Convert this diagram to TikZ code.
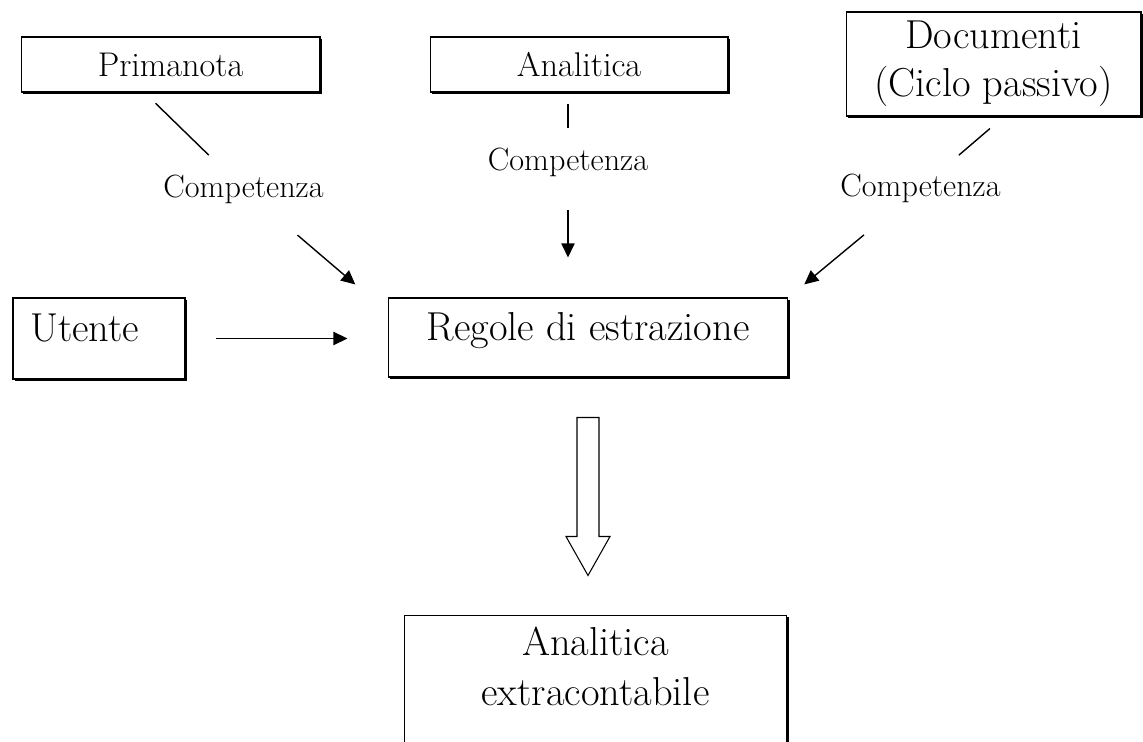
\documentclass[tikz,border=0pt]{standalone}
\usepackage{tikz}
\usetikzlibrary{arrows.meta,positioning,calc,shadows}

\begin{document}
\begin{tikzpicture}[
  x=0.02cm, y=-0.02cm,
  box/.style={draw, line width=0.6pt, fill=white, inner sep=0pt, align=center,
    drop shadow={shadow xshift=0.035cm, shadow yshift=-0.035cm, fill=black, opacity=1}},
  src/.style={box, font=\fontsize{19.5}{23}\selectfont, minimum height=1.1cm},
  big/.style={box, font=\fontsize{23}{28.5}\selectfont, text height=16pt, text depth=12.8pt},
  lbl/.style={font=\fontsize{18.3}{22}\selectfont, inner sep=0pt},
  link/.style={line width=0.8pt},
  arr/.style={link, -{Triangle[length=8pt, width=7.5pt]}},
  hollow/.style={draw, line width=0.6pt, fill=white},
]
\useasboundingbox (0,0) rectangle (1143,742);

\node[src, minimum width=5.98cm] (prim) at (170.5,64.5) {Primanota};
\node[src, minimum width=5.96cm] (anal) at (579,64.5) {Analitica};
\node[src, minimum width=5.9cm, minimum height=2.08cm,
  font=\fontsize{23}{27.3}\selectfont] (docu) at (993.5,64)
  {Documenti\\(Ciclo passivo)};

\node[big, minimum width=3.44cm, minimum height=1.62cm, text width=2.76cm,
  align=left, inner xsep=0.34cm] (ute) at (99,338.5) {Utente};
\node[big, minimum width=8cm, minimum height=1.58cm] (regole) at (588,337.5)
  {Regole di estrazione};
\node[box, font=\fontsize{23}{28.5}\selectfont, minimum width=7.66cm,
  anchor=north, inner ysep=0.22cm, text depth=3cm] (extr) at (595.5,615)
  {Analitica\\extracontabile};

\node[lbl] (c1) at (243.5,189) {Competenza};
\node[lbl] (c2) at (568,162) {Competenza};
\node[lbl] (c3) at (920.5,188) {Competenza};

\draw[link, shorten <=0.31cm, shorten >=0.97cm] ([xshift=-0.52cm]prim.south) -- (c1.center);
\draw[arr, shorten <=1.42cm, shorten >=0.4cm] (c1.center) -- ([xshift=-0.34cm]regole.north west);
\draw[link, shorten <=0.22cm, shorten >=0.68cm] (anal.south -| c2) -- (c2.center);
\draw[arr, shorten <=0.96cm, shorten >=0.8cm] (c2.center) -- (regole.north -| c2);
\draw[link, shorten <=0.37cm, shorten >=1.01cm] ([xshift=0.21cm]docu.south) -- (c3.center);
\draw[arr, shorten <=1.47cm, shorten >=0.41cm] (c3.center) -- (regole.north east);
\draw[arr, shorten <=0.6cm, shorten >=0.8cm] (ute.east) -- (ute.east -| regole.west);

\draw[hollow] ([yshift=-0.8cm]regole.south) ++(-11,0) -- ++(0,119) -- ++(-11,0)
  -- ++(22,39) -- ++(22,-39) -- ++(-11,0) -- ++(0,-119) -- cycle;
\end{tikzpicture}
\end{document}
